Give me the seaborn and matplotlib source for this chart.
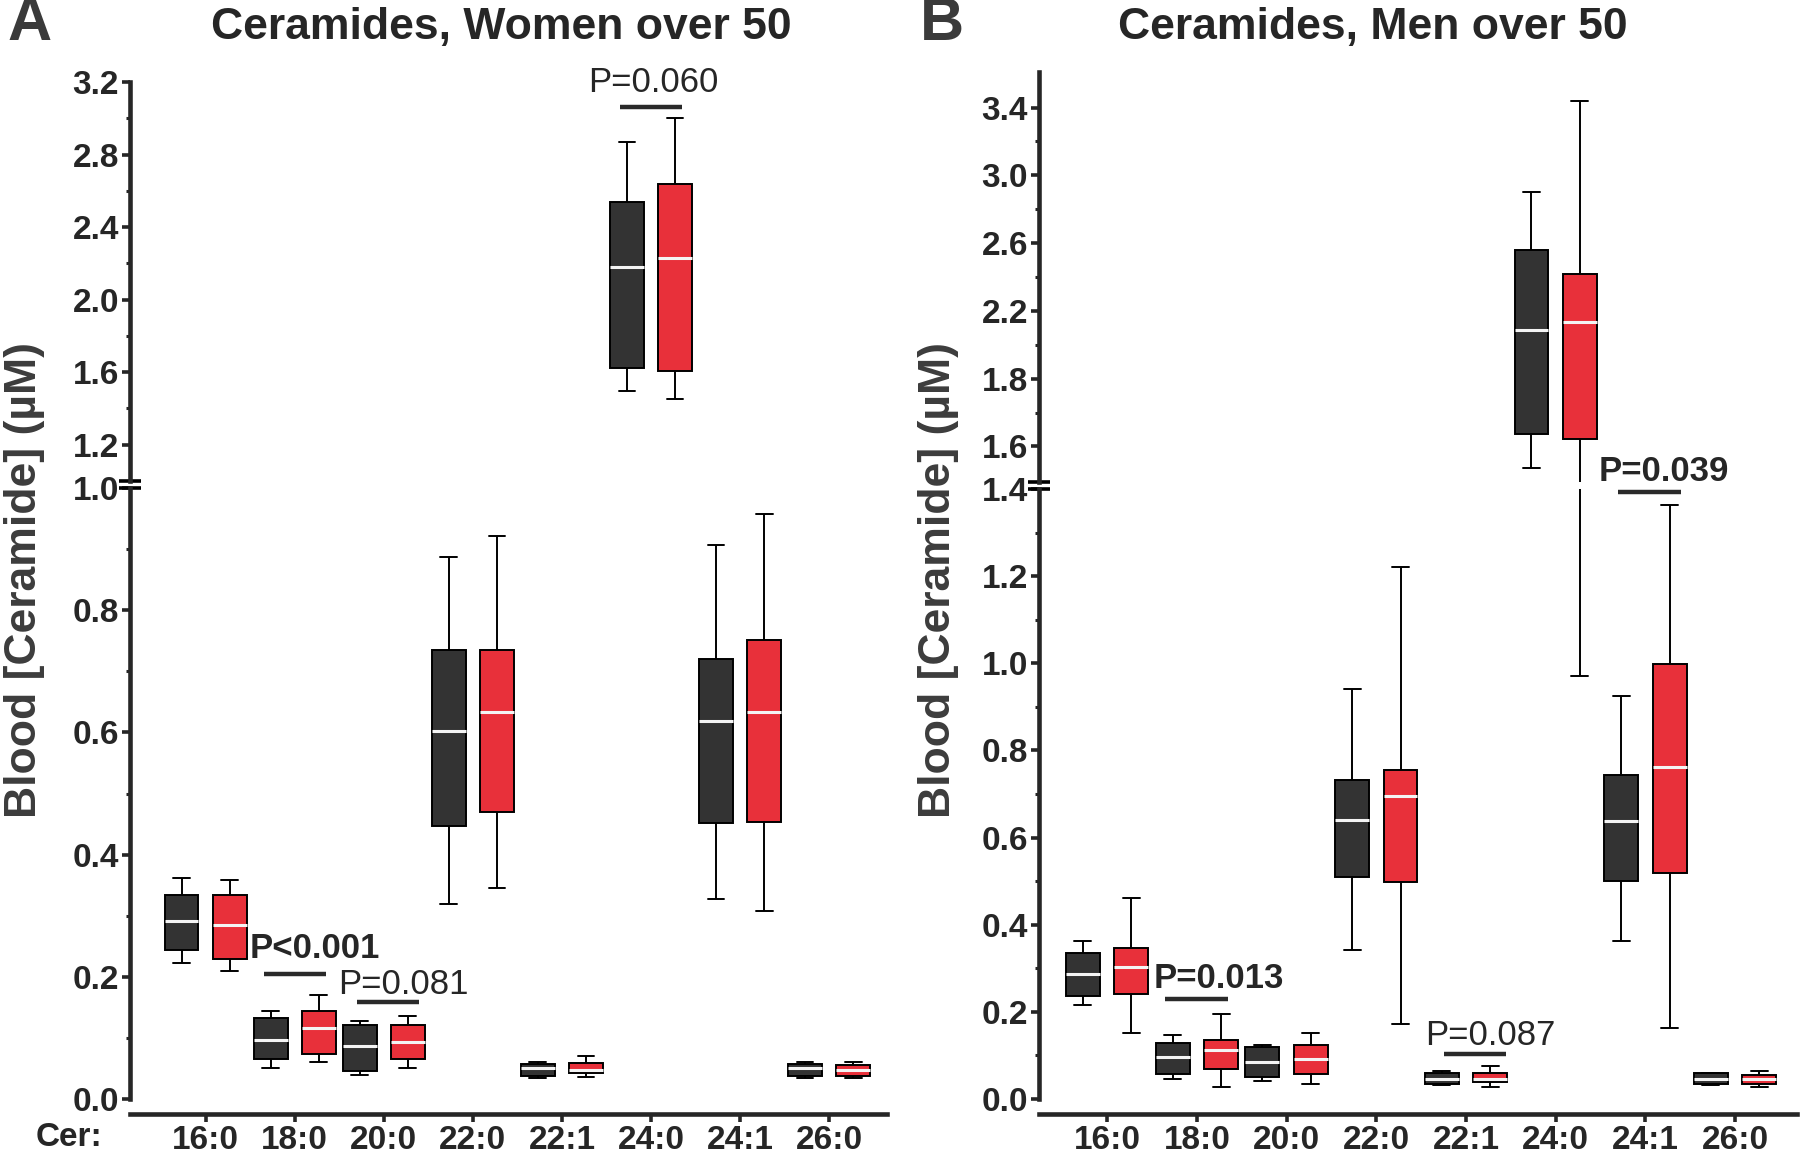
import numpy as np
import pandas as pd
import seaborn as sns
import matplotlib.pyplot as plt
from matplotlib.ticker import FixedLocator, FormatStrFormatter

# ceramide species on the x axis
cer = ["16:0", "18:0", "20:0", "22:0", "22:1", "24:0", "24:1", "26:0"]
groups = ["Group 1", "Group 2"]

# box summaries per species: whisker low, Q1, median, Q3, whisker high (uM)
women_g1 = [
    [0.222, 0.244, 0.291, 0.334, 0.362],
    [0.050, 0.065, 0.097, 0.133, 0.144],
    [0.039, 0.046, 0.086, 0.121, 0.128],
    [0.319, 0.447, 0.603, 0.735, 0.887],
    [0.034, 0.038, 0.050, 0.058, 0.061],
    [1.494, 1.623, 2.182, 2.540, 2.870],
    [0.327, 0.451, 0.619, 0.720, 0.907],
    [0.034, 0.038, 0.050, 0.058, 0.061],
]
women_g2 = [
    [0.209, 0.229, 0.284, 0.334, 0.358],
    [0.061, 0.074, 0.116, 0.144, 0.171],
    [0.050, 0.065, 0.093, 0.121, 0.136],
    [0.346, 0.470, 0.634, 0.735, 0.922],
    [0.036, 0.042, 0.048, 0.059, 0.070],
    [1.454, 1.608, 2.228, 2.635, 3.002],
    [0.308, 0.454, 0.634, 0.751, 0.957],
    [0.034, 0.038, 0.047, 0.055, 0.061],
]
men_g1 = [
    [0.216, 0.237, 0.288, 0.336, 0.363],
    [0.046, 0.057, 0.097, 0.129, 0.146],
    [0.042, 0.051, 0.085, 0.119, 0.125],
    [0.342, 0.509, 0.640, 0.733, 0.940],
    [0.033, 0.034, 0.047, 0.059, 0.064],
    [1.536, 1.638, 2.086, 2.559, 2.902],
    [0.363, 0.501, 0.638, 0.743, 0.925],
    [0.033, 0.034, 0.047, 0.059, 0.060],
]
men_g2 = [
    [0.151, 0.242, 0.304, 0.347, 0.462],
    [0.028, 0.068, 0.112, 0.135, 0.194],
    [0.034, 0.057, 0.091, 0.125, 0.151],
    [0.172, 0.498, 0.695, 0.755, 1.222],
    [0.028, 0.040, 0.047, 0.060, 0.076],
    [0.970, 1.621, 2.137, 2.418, 3.437],
    [0.162, 0.519, 0.762, 0.999, 1.364],
    [0.027, 0.034, 0.045, 0.055, 0.064],
]

box_colors = ["#333333", "#e8303a"]
font = ["Liberation Sans", "DejaVu Sans"]

sns.set_style("ticks")
plt.rcParams["font.family"] = font

W, H = 1800, 1167


def make_frame(g1, g2):
    rows = []
    for name, stats in zip(groups, [g1, g2]):
        for c, five in zip(cer, stats):
            for v in five:
                rows.append({"cer": c, "group": name, "value": v})
    return pd.DataFrame(rows)


def px_axes(left, right, top, bottom):
    return fig.add_axes([left / W, 1 - bottom / H, (right - left) / W, (bottom - top) / H])


def style_axis(ax):
    sns.despine(ax=ax)
    ax.spines["left"].set_linewidth(3.3)
    ax.spines["bottom"].set_linewidth(3.3)
    ax.tick_params(axis="y", which="major", length=6, width=2.6, labelsize=24, pad=2)
    ax.tick_params(axis="y", which="minor", length=3, width=2.2)
    ax.yaxis.set_major_formatter(FormatStrFormatter("%.1f"))
    for lab in ax.get_yticklabels():
        lab.set_fontweight("bold")
    ax.set_xlabel("")
    ax.set_ylabel("")


def draw_boxes(ax, df):
    sns.boxplot(data=df, x="cer", y="value", hue="group", order=cer,
                hue_order=groups, palette=box_colors, saturation=1,
                whis=(0, 100), width=1.08, gap=0.3, linecolor="black",
                linewidth=1.4, showfliers=False,
                medianprops=dict(color="#f4f4f4", linewidth=2.2),
                legend=False, ax=ax)


def break_marks(ax, y):
    ax.plot([-0.014, 0.014], [y, y], transform=ax.transAxes, color="black",
            lw=2.6, clip_on=False, solid_capstyle="butt")


def p_label(ax, text, bold, xc, y_text, x_text, y_bar):
    ax.plot([xc - 0.35, xc + 0.35], [y_bar, y_bar], color="#2a2a2a", lw=3.2,
            solid_capstyle="butt", clip_on=False)
    ax.text(x_text, y_text, text, ha="center", va="center", fontsize=25,
            fontweight="bold" if bold else "normal", clip_on=False)


fig = plt.figure(figsize=(18, 11.67), dpi=100)

# ---- panel A
a_up = px_axes(130, 887, 82, 481)
a_lo = px_axes(130, 887, 488, 1099)
df_w = make_frame(women_g1, women_g2)
for ax in (a_up, a_lo):
    draw_boxes(ax, df_w)
    ax.set_xlim(-0.85, 7.65)

a_up.set_ylim(1.0, 3.2)
a_up.yaxis.set_major_locator(FixedLocator([1.2, 1.6, 2.0, 2.4, 2.8, 3.2]))
a_up.yaxis.set_minor_locator(FixedLocator([1.4, 1.8, 2.2, 2.6, 3.0]))
a_lo.set_ylim(0, 1.0)
a_lo.yaxis.set_major_locator(FixedLocator([0, 0.2, 0.4, 0.6, 0.8, 1.0]))
a_lo.yaxis.set_minor_locator(FixedLocator([0.1, 0.3, 0.5, 0.7, 0.9]))


# ---- panel B (upper segment stretched below 1.8 as in the original)
def fwd(y):
    y = np.asarray(y, dtype=float)
    return np.where(y < 1.8, 1.8 - (1.8 - y) * 2.0, y)


def inv(u):
    u = np.asarray(u, dtype=float)
    return np.where(u < 1.8, 1.8 - (1.8 - u) / 2.0, u)


b_up = px_axes(1039, 1797, 72, 482)
b_lo = px_axes(1039, 1797, 489, 1099)
b_up.set_yscale("function", functions=(fwd, inv))
df_m = make_frame(men_g1, men_g2)
for ax in (b_up, b_lo):
    draw_boxes(ax, df_m)
    ax.set_xlim(-0.76, 7.69)

b_up.set_ylim(1.495, 3.61)
b_up.yaxis.set_major_locator(FixedLocator([1.6, 1.8, 2.2, 2.6, 3.0, 3.4]))
b_up.yaxis.set_minor_locator(FixedLocator([1.7, 2.0, 2.4, 2.8, 3.2]))
b_lo.set_ylim(0, 1.4)
b_lo.yaxis.set_major_locator(FixedLocator([0, 0.2, 0.4, 0.6, 0.8, 1.0, 1.2, 1.4]))
b_lo.yaxis.set_minor_locator(FixedLocator([0.1, 0.3, 0.5, 0.7, 0.9, 1.1, 1.3]))

for up, lo, top in ((a_up, a_lo, 1.0), (b_up, b_lo, 1.4)):
    style_axis(up)
    style_axis(lo)
    up.spines["bottom"].set_visible(False)
    up.tick_params(axis="x", bottom=False, labelbottom=False)
    lo.spines["left"].set_bounds(0, top)
    lo.spines["bottom"].set_position(("outward", 11))
    lo.tick_params(axis="x", which="major", length=6, width=2.6, labelsize=24, pad=2)
    for lab in lo.get_xticklabels():
        lab.set_fontweight("bold")
    break_marks(up, 0)
    break_marks(lo, 1)

# ---- p-value annotations
p_label(a_lo, "P<0.001", True, 1.0, 0.247, 1.23, 0.205)
p_label(a_lo, "P=0.081", False, 2.05, 0.187, 2.22, 0.158)
p_label(a_up, "P=0.060", False, 5.0, 3.195, 5.03, 3.06)
p_label(b_lo, "P=0.013", True, 1.0, 0.277, 1.25, 0.230)
p_label(b_lo, "P=0.087", False, 4.1, 0.145, 4.27, 0.103)
p_label(b_lo, "P=0.039", True, 6.05, 1.44, 6.2, 1.394)

# ---- titles, panel letters and axis labels
fig.text(501 / W, 1 - 27 / H, "Ceramides, Women over 50", ha="center", va="center",
         fontsize=32, fontweight="bold")
fig.text(1373 / W, 1 - 27 / H, "Ceramides, Men over 50", ha="center", va="center",
         fontsize=32, fontweight="bold")
fig.text(30 / W, 1 - 25 / H, "A", ha="center", va="center", fontsize=44,
         fontweight="bold", color="#3a3a3a")
fig.text(942 / W, 1 - 25 / H, "B", ha="center", va="center", fontsize=44,
         fontweight="bold", color="#3a3a3a")
for x in (25, 939):
    fig.text(x / W, 1 - 580 / H, "Blood [Ceramide] (µM)", rotation=90, ha="center",
             va="center", fontsize=32, fontweight="bold", color="#3c3c3c")
fig.text(69 / W, 1 - 1138 / H, "Cer:", ha="center", va="center", fontsize=24,
         fontweight="bold")

fig.savefig("out.png", dpi=100)
